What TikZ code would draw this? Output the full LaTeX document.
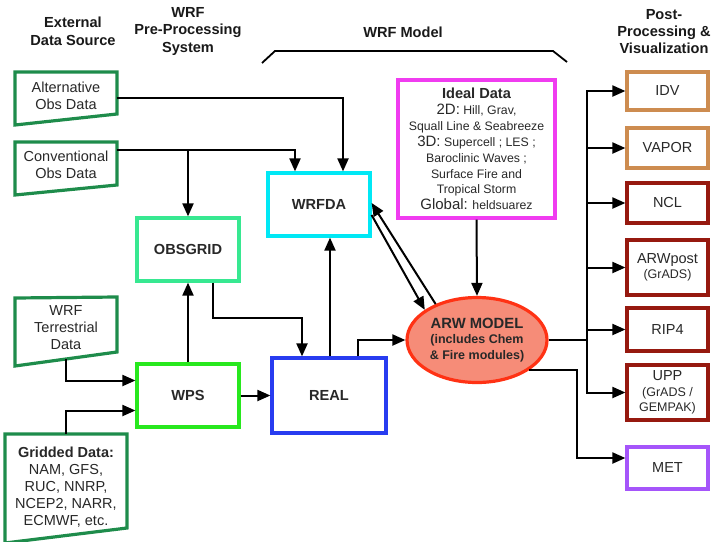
\documentclass[tikz,border=0pt]{standalone}
\usepackage{fontspec}
\setmainfont{Liberation Sans}
\usetikzlibrary{arrows.meta,shapes.geometric,calc}
\definecolor{srcgreen}{RGB}{30,140,75}
\definecolor{obsgreen}{RGB}{55,232,145}
\definecolor{wpsgreen}{RGB}{40,232,30}
\definecolor{dacyan}{RGB}{0,232,245}
\definecolor{realblue}{RGB}{40,60,240}
\definecolor{idealmag}{RGB}{240,60,240}
\definecolor{arwfill}{RGB}{246,140,120}
\definecolor{arwline}{RGB}{255,50,20}
\definecolor{tanc}{RGB}{205,140,80}
\definecolor{darkredc}{RGB}{150,25,15}
\definecolor{metpurple}{RGB}{165,85,250}
\definecolor{txtgray}{RGB}{40,40,40}
\begin{document}
\begin{tikzpicture}[x=1pt,y=-1pt,
  font=\fontsize{14.5}{17}\selectfont, text=txtgray,
  hdr/.style={align=center, font=\bfseries\fontsize{14.6}{17.5}\selectfont, text=black!90},
  box/.style={draw, line width=3.2pt, align=center, inner sep=1pt},
  lbl/.style={font=\bfseries\fontsize{14.6}{17}\selectfont},
  src/.style={draw=srcgreen, line width=3.2pt, line join=miter},
  arr/.style={line width=2pt, -{Triangle[length=13pt,width=11pt]}},
  ln/.style={line width=2pt},
  rbox/.style={box, minimum width=81pt}
]
\useasboundingbox (0,0) rectangle (714,541);

% headers
\node[hdr] (h1) at (73,31.5) {External\\Data Source};
\node[hdr] (h2) at (188,31) {WRF\\Pre-Processing\\System};
\node[hdr] (h3) at (403,32) {WRF Model};
\node[hdr, font=\bfseries\fontsize{14.6}{17}\selectfont] (h4) at (664,31.5) {Post-\\Processing \&\\Visualization};
\coordinate (br1) at (262,63);
\coordinate (br2) at (275,51);
\coordinate (br3) at (553,51);
\coordinate (br4) at (567,62);
\draw[line width=1.8pt] (br1) -- (br2) -- (br3) -- (br4);

% external data sources
\draw[src] (15,72) -- (117,72) -- (117,114) -- (15,125) -- cycle;
\node[align=center] (alt) at (66,96) {Alternative\\Obs Data};
\draw[src] (15,142) -- (117,142) -- (117,185) -- (15,195) -- cycle;
\node[align=center] (conv) at (66,165) {Conventional\\Obs Data};
\draw[src] (15,298) -- (117,297) -- (117,352) -- (15,366) -- cycle;
\node[align=center] (terr) at (66,328) {WRF\\Terrestrial\\Data};
\draw[src] (5,434) -- (127,434) -- (127,528) -- (5,543) -- cycle;
\node[align=center] (grid) at (66,487) {\textbf{Gridded Data:}\\NAM, GFS,\\RUC, NNRP,\\NCEP2, NARR,\\ECMWF, etc.};
\coordinate (altR) at (117,98);
\coordinate (convR) at (117,150);
\coordinate (terrB) at (66,359);
\coordinate (gridT) at (66,434);

% main boxes
\node[box, draw=obsgreen, minimum width=102pt, minimum height=63pt, lbl] (obsgrid) at (188,249.5) {OBSGRID};
\node[box, draw=dacyan, minimum width=102pt, minimum height=63pt, lbl] (wrfda) at (319,204.5) {WRFDA};
\node[box, draw=wpsgreen, minimum width=102pt, minimum height=63pt, lbl] (wps) at (188,395.5) {WPS};
\node[box, draw=realblue, minimum width=114pt, minimum height=75pt, lbl] (real) at (329,395.5) {REAL};
\node[box, draw=idealmag, minimum width=157pt, minimum height=138pt,
      font=\fontsize{12.3}{15.9}\selectfont] (ideal) at (476.5,149)
  {{\bfseries\fontsize{14.6}{15.9}\selectfont Ideal Data}\\
   {\fontsize{15}{15.9}\selectfont 2D:} Hill, Grav,\\
   Squall Line \& Seabreeze\\
   {\fontsize{15}{15.9}\selectfont 3D:} Supercell ; LES ;\\
   Baroclinic Waves ;\\
   Surface Fire and\\
   Tropical Storm\\
   {\fontsize{15}{15.9}\selectfont Global:} heldsuarez};
\node[ellipse, draw=arwline, fill=arwfill, line width=3.2pt, minimum width=140pt, minimum height=85pt,
      inner sep=0pt, align=center, font=\bfseries\fontsize{12.5}{15.5}\selectfont] (arw) at (477,340)
  {{\fontsize{14.8}{17}\selectfont ARW MODEL}\\(includes Chem\\\& Fire modules)};

% post-processing boxes
\node[rbox, draw=tanc, minimum height=38pt] (idv) at (667.5,91) {IDV};
\node[rbox, draw=tanc, minimum height=40pt] (vapor) at (667.5,148) {VAPOR};
\node[rbox, draw=darkredc, minimum height=40pt] (ncl) at (667.5,203) {NCL};
\node[rbox, draw=darkredc, minimum height=55pt] (arwpost) at (667.5,267.5) {ARWpost\\[-2pt]{\fontsize{12.5}{14}\selectfont (GrADS)}};
\node[rbox, draw=darkredc, minimum height=43pt] (rip) at (667.5,329.5) {RIP4};
\node[rbox, draw=darkredc, minimum height=55pt, font=\fontsize{12.5}{15.5}\selectfont] (upp) at (667.5,392.5) {{\fontsize{14.5}{15.5}\selectfont UPP}\\(GrADS /\\GEMPAK)};
\node[rbox, draw=metpurple, minimum height=42pt] (met) at (667.5,468) {MET};

% connectors
\draw[arr] (altR) -| ([xshift=24pt]wrfda.north);
\draw[arr] (convR) -| ([xshift=-24pt]wrfda.north);
\draw[arr] (obsgrid.north |- convR) -- (obsgrid.north);
\draw[arr] (wps.north) -- (obsgrid.south);
\coordinate (obsbend) at (213,318);
\draw[arr] ([xshift=25pt]obsgrid.south) -- (obsbend) -| ([xshift=-27pt]real.north);
\draw[arr] ([xshift=1pt]real.north) -- ([xshift=11pt]wrfda.south);
\draw[arr] (wps.east) -- (real.west);
\draw[arr] (terrB) |- ([yshift=15pt]wps.west);
\draw[arr] (gridT) |- ([yshift=-15pt]wps.west);
\draw[arr] ([xshift=29pt]real.north) |- (arw.west);
\draw[arr] (ideal.south) -- (arw.north);
\draw[arr] ([yshift=-10.5pt]wrfda.east) -- (arw.150);
\draw[arr] (arw.139) -- ([yshift=1.5pt]wrfda.east);

\coordinate (trunk) at (587,340);
\draw[ln] (arw.east) -- (trunk);
\foreach \t in {idv,vapor,ncl,arwpost,rip,upp}
  \draw[arr] (trunk) |- (\t.west);
\coordinate (metx) at (577,0);
\draw[arr] (arw.-30) -- (arw.-30 -| metx) |- ([yshift=10pt]met.west);
\end{tikzpicture}
\end{document}
